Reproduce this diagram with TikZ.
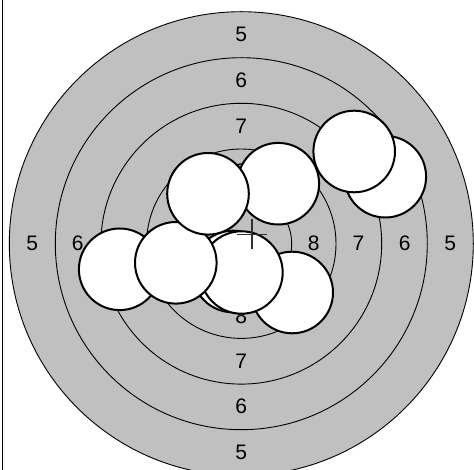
\documentclass[tikz,border=0pt]{standalone}
\usepackage{fontspec}
\setmainfont{Liberation Sans}
\definecolor{tgray}{HTML}{C0C0C0}
\definecolor{crossgray}{HTML}{303030}
\tikzset{
  ring/.style={draw=black, line width=0.9pt, fill=tgray},
  hole/.style={draw=black, line width=2pt, fill=white},
  lab/.style={font=\fontsize{21}{25}\selectfont, inner sep=0pt},
  crossline/.style={draw=crossgray, line width=1.8pt}
}
\begin{document}
\begin{tikzpicture}[x=1pt,y=-1pt]
\useasboundingbox (0,0) rectangle (474,470);
\clip (0,0) rectangle (474,470);
\coordinate (c) at (241.3,243.7);
% rings
\foreach \r in {232,186,140.4,94.7,50.4} {
  \path[ring] (c) circle[radius=\r];
}
% labels
\node[lab] (t5) at (241.3,34.7) {5};
\node[lab] (t6) at (241.3,80.7) {6};
\node[lab] (t7) at (241.3,126.2) {7};
\node[lab] (t8) at (241.3,171.2) {8};
\node[lab] (b8) at (241.3,316.5) {8};
\node[lab] (b7) at (241.3,361.7) {7};
\node[lab] (b6) at (241.3,406.7) {6};
\node[lab] (b5) at (241.3,452.5) {5};
\node[lab] (r8) at (313.8,243.7) {8};
\node[lab] (r7) at (358.5,243.7) {7};
\node[lab] (r6) at (404.8,243.7) {6};
\node[lab] (r5) at (450.3,243.7) {5};
\node[lab] (l8) at (168.8,243.7) {8};
\node[lab] (l7) at (124.1,243.7) {7};
\node[lab] (l6) at (77.8,243.7) {6};
\node[lab] (l5) at (32.3,243.7) {5};
% holes
\path[hole] (385.3,176.7) circle[radius=40.8];
\path[hole] (354.2,151.5) circle[radius=40.8];
\path[hole] (278.3,183.7) circle[radius=40.8];
\path[hole] (119.7,269.3) circle[radius=40.8];
\path[hole] (233,271.5) circle[radius=40.8];
\path[hole] (292.2,292.5) circle[radius=40.8];
\path[hole] (241.5,272.5) circle[radius=41.2];
\path[hole] (175.8,262.8) circle[radius=40.8];
\path[hole] (208,193.8) circle[radius=40.8];
% mean point cross
\coordinate (m) at (251.7,234.5);
\draw[crossline] ([xshift=-15pt]m) -- ([xshift=15pt]m);
\draw[crossline] ([yshift=-15pt]m) -- ([yshift=15pt]m);
% left border
\draw[line width=1pt] (2.5,0) -- (2.5,470);
\end{tikzpicture}
\end{document}
